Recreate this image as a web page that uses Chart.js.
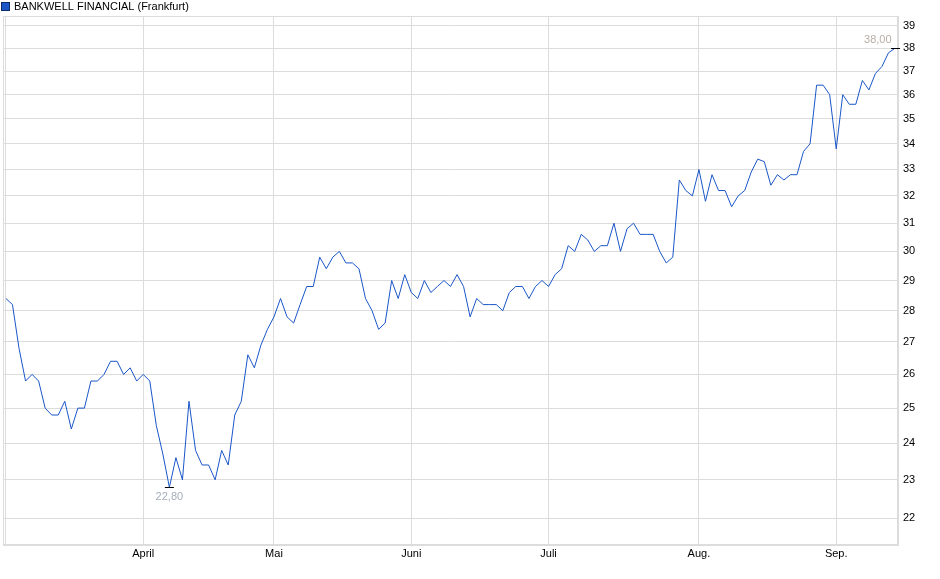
<!DOCTYPE html>
<html>
<head>
<meta charset="utf-8">
<script src="https://cdn.jsdelivr.net/npm/chart.js@4.4.1/dist/chart.umd.min.js"></script>
<style>
  html, body { margin: 0; padding: 0; background: #fff; }
  #wrap { width: 940px; height: 579px; }
</style>
</head>
<body>
<div id="wrap"><canvas id="kurs" width="940" height="579"></canvas></div>
<script>
// Daten
const seriesName = 'BANKWELL FINANCIAL (Frankfurt)';
const firstDay = '2025-03-03';
const holidays = ['2025-04-18', '2025-04-21', '2025-05-01'];
const monthStarts = ['2025-03-03', '2025-04-01', '2025-05-02', '2025-06-02', '2025-07-01', '2025-08-01', '2025-09-01'];
const monthLabels = ['', 'April', 'Mai', 'Juni', 'Juli', 'Aug.', 'Sep.'];
const yTicks = [22, 23, 24, 25, 26, 27, 28, 29, 30, 31, 32, 33, 34, 35, 36, 37, 38, 39];

// März
const pricesMar = [28.4, 28.2, 26.8, 25.8, 26.0, 25.8, 25.0, 24.8, 24.8, 25.2, 24.4,
                   25.0, 25.0, 25.8, 25.8, 26.0, 26.4, 26.4, 26.0, 26.2, 25.8];
// April
const pricesApr = [26.0, 25.8, 24.5, 23.7, 22.8, 23.6, 23.0, 25.2, 23.8, 23.4, 23.4,
                   23.0, 23.8, 23.4, 24.8, 25.2, 26.6, 26.2, 26.9, 27.4];
// Mai
const pricesMay = [27.8, 28.4, 27.8, 27.6, 28.2, 28.8, 28.8, 29.8, 29.4, 29.8, 30.0,
                   29.6, 29.6, 29.4, 28.4, 28.0, 27.4, 27.6, 29.0, 28.4, 29.2];
// Juni
const pricesJun = [28.6, 28.4, 29.0, 28.6, 28.8, 29.0, 28.8, 29.2, 28.8, 27.8, 28.4,
                   28.2, 28.2, 28.2, 28.0, 28.6, 28.8, 28.8, 28.4, 28.8, 29.0];
// Juli
const pricesJul = [28.8, 29.2, 29.4, 30.2, 30.0, 30.6, 30.4, 30.0, 30.2, 30.2, 31.0,
                   30.0, 30.8, 31.0, 30.6, 30.6, 30.6, 30.0, 29.6, 29.8, 32.6, 32.2, 32.0];
// August
const pricesAug = [33.0, 31.8, 32.8, 32.2, 32.2, 31.6, 32.0, 32.2, 32.9, 33.4, 33.3,
                   32.4, 32.8, 32.6, 32.8, 32.8, 33.7, 34.0, 36.4, 36.4, 36.0];
// September
const pricesSep = [33.8, 36.0, 35.6, 35.6, 36.6, 36.2, 36.9, 37.2, 37.8, 38.0];

const prices = [].concat(pricesMar, pricesApr, pricesMay, pricesJun, pricesJul, pricesAug, pricesSep);

const lineColor = '#1a56c8';
const gridColor = '#dcdcdc';
const fontFamily = '"Liberation Sans", Arial, sans-serif';

// Handelstage ab dem ersten Tag
const dates = [];
const day = new Date(firstDay + 'T00:00:00Z');
while (dates.length < prices.length) {
    const iso = day.toISOString().slice(0, 10);
    const wd = day.getUTCDay();
    if (wd !== 0 && wd !== 6 && !holidays.includes(iso)) dates.push(iso);
    day.setUTCDate(day.getUTCDate() + 1);
}
const monthIdx = monthStarts.map(s => dates.indexOf(s));

const fmt = v => v.toFixed(2).replace('.', ',');

// Rahmen, Min/Max-Marken und Legende
const frame = {
    id: 'frame',
    beforeDatasetsDraw(chart) {
        const { ctx, chartArea: a } = chart;
        ctx.save();
        ctx.strokeStyle = gridColor;
        ctx.lineWidth = 1;
        ctx.strokeRect(a.left + 0.5, a.top + 0.5, a.right - a.left - 1, a.bottom - a.top - 1);
        ctx.restore();
    },
    afterDatasetsDraw(chart) {
        const { ctx, scales } = chart;
        const lo = prices.indexOf(Math.min(...prices));
        const hi = prices.indexOf(Math.max(...prices));
        ctx.save();
        ctx.font = '11px ' + fontFamily;
        ctx.textBaseline = 'middle';
        ctx.strokeStyle = '#000';
        ctx.lineWidth = 1;

        let x = scales.x.getPixelForValue(lo);
        let y = Math.round(scales.y.getPixelForValue(prices[lo])) + 0.5;
        ctx.beginPath();
        ctx.moveTo(x - 4.5, y); ctx.lineTo(x + 4.5, y);
        ctx.stroke();
        ctx.fillStyle = '#a6adba';
        ctx.textAlign = 'center';
        ctx.fillText(fmt(prices[lo]), x, y + 9);

        x = scales.x.getPixelForValue(hi);
        y = Math.round(scales.y.getPixelForValue(prices[hi])) + 0.5;
        ctx.beginPath();
        ctx.moveTo(x - 4, y); ctx.lineTo(x + 5, y);
        ctx.stroke();
        ctx.fillStyle = '#b8aea4';
        ctx.textAlign = 'right';
        ctx.fillText(fmt(prices[hi]), x - 3.5, y - 9);
        ctx.restore();
    },
    afterDraw(chart) {
        const ctx = chart.ctx;
        ctx.save();
        ctx.fillStyle = lineColor;
        ctx.fillRect(1.5, 2.5, 8, 8);
        ctx.strokeStyle = '#0d2b66';
        ctx.lineWidth = 1;
        ctx.strokeRect(1.5, 2.5, 8, 8);
        ctx.fillStyle = '#000';
        ctx.font = '11px ' + fontFamily;
        ctx.textBaseline = 'middle';
        ctx.textAlign = 'left';
        ctx.fillText(seriesName, 14, 7);
        ctx.restore();
    }
};

const ctx = document.getElementById('kurs').getContext('2d');
new Chart(ctx, {
    type: 'line',
    data: {
        datasets: [{
            label: seriesName,
            data: prices.map((v, i) => ({ x: i, y: v })),
            borderColor: lineColor,
            borderWidth: 1,
            pointRadius: 0,
            tension: 0,
            fill: false
        }]
    },
    options: {
        responsive: false,
        animation: false,
        layout: { padding: { left: 3, top: 16, right: 0, bottom: 0 } },
        plugins: {
            legend: { display: false },
            tooltip: { enabled: false }
        },
        scales: {
            x: {
                type: 'linear',
                min: -0.45,
                max: prices.length - 0.55,
                afterBuildTicks: s => { s.ticks = monthIdx.map(v => ({ value: v })); },
                afterFit: s => { s.height = 34; },
                ticks: {
                    autoSkip: false,
                    maxRotation: 0,
                    padding: 2,
                    color: '#000',
                    font: { family: fontFamily, size: 11 },
                    callback: v => monthLabels[monthIdx.indexOf(v)] || ''
                },
                grid: { color: gridColor, drawTicks: false },
                border: { color: gridColor }
            },
            y: {
                type: 'logarithmic',
                position: 'right',
                min: 21.32,
                max: 39.45,
                afterBuildTicks: s => { s.ticks = yTicks.map(v => ({ value: v })); },
                afterFit: s => { s.width = 42; },
                ticks: {
                    padding: 5,
                    color: '#000',
                    font: { family: fontFamily, size: 11 },
                    callback: v => String(v)
                },
                grid: { color: gridColor, drawTicks: false },
                border: { color: gridColor }
            }
        }
    },
    plugins: [frame]
});
</script>
</body>
</html>
